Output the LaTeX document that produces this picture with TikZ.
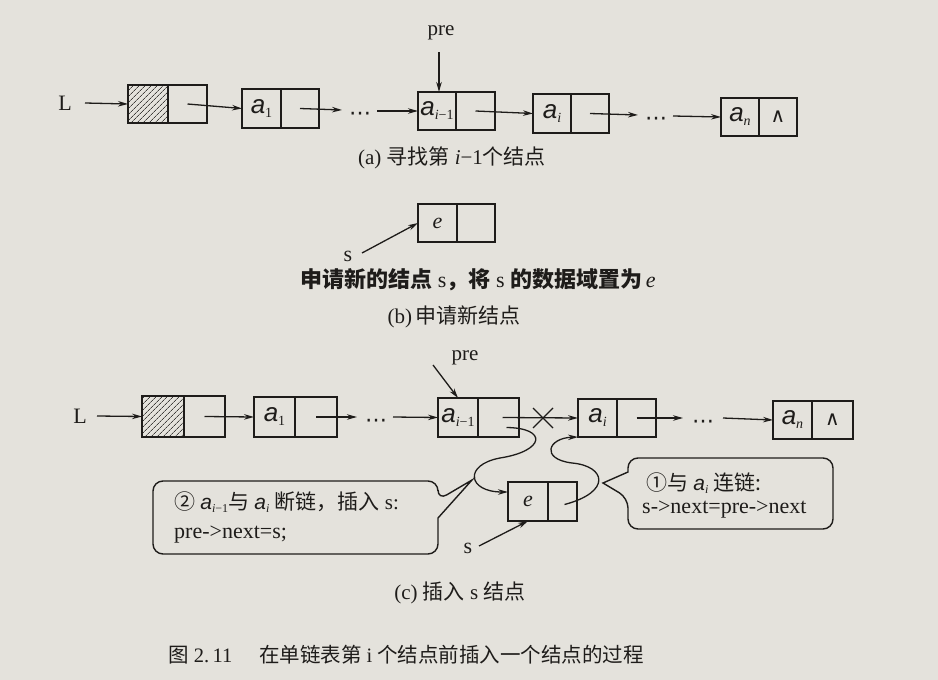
\documentclass[tikz,border=0pt]{standalone}
\usepackage{fontspec}
\setmainfont{Liberation Serif}
\newfontfamily\cjk{Noto Sans CJK SC}
\newfontfamily\symf{DejaVu Sans}
\newfontfamily\afont{Liberation Sans}
\usetikzlibrary{arrows.meta,patterns.meta}
\definecolor{paper}{RGB}{228,226,220}
\definecolor{ink}{RGB}{30,28,26}
\newcommand\zh[1]{{\cjk #1}}
\newcommand\zhb[1]{{\cjk\bfseries #1}}
\newcommand\elm[1]{{\afont\itshape\fontsize{26}{26}\selectfont a}\raisebox{-4pt}{\fontsize{14}{14}\selectfont #1}}
\newcommand\elc[1]{{\afont\itshape\fontsize{21}{21}\selectfont a}\raisebox{-3.5pt}{\fontsize{12}{12}\selectfont #1}}
\newcommand\lnode[9][]{%
  \node[cell,#1,minimum width={(#4-#3)*1pt},minimum height={(#7-#6)*1pt}] (#2d) at ({(#3+#4)/2},{(#6+#7)/2}) {#8};
  \node[cell,minimum width={(#5-#4)*1pt},minimum height={(#7-#6)*1pt}] (#2p) at ({(#4+#5)/2},{(#6+#7)/2}) {#9};}
\tikzset{
  cell/.style={draw=ink, line width=1.8pt, inner sep=0pt, outer sep=0pt, text=ink},
  arr/.style={draw=ink, line width=1.3pt, -{Stealth[length=10pt,width=5.5pt]}},
  lbl/.style={inner sep=1pt, text=ink, font=\fontsize{22}{22}\selectfont},
  captxt/.style={inner sep=0pt, text=ink, font=\fontsize{21}{25}\selectfont},
  dotnode/.style={inner sep=0pt, text=ink, font=\symf\fontsize{22}{22}\selectfont},
  hatch/.style={pattern={Lines[angle=45,distance=4pt,line width=0.7pt]}, pattern color=ink!85},
  callout/.style={draw=ink, line width=1.4pt},
  ctext/.style={inner sep=0pt, text=ink, anchor=west, font=\fontsize{21}{21}\selectfont},
  nil/.style={font=\symf\fontsize{21}{21}\selectfont},
}
\begin{document}
\begin{tikzpicture}[x=1pt,y=-1pt]
\fill[paper] (0,0) rectangle (938,680);
\useasboundingbox (0,0) rectangle (938,680);

% ---------- (a) ----------
\node[lbl] (LA) at (65,103) {L};
\coordinate (LAs) at (85,103);
\lnode[hatch]{hA}{128}{168}{207}{85}{123}{}{}
\lnode{a1A}{242}{281}{319}{89}{128}{\elm{1}}{}
\lnode{aimA}{418}{456}{495}{92}{130}{\elm{\textit{i}−1}}{}
\lnode{aiA}{533}{571}{609}{94}{133}{\elm{\textit{i}}}{}
\lnode{anA}{721}{759}{797}{98}{136}{\elm{\textit{n}}}{{\symf\fontsize{20}{20}\selectfont ∧}}
\node[lbl, font=\fontsize{21}{21}\selectfont] (preA) at (441,33) {pre};
\coordinate (preAs) at (439,52);
\draw[arr] (LAs) -- (hAd.west);
\draw[arr] (hAp.center) -- (a1Ad.west);
\coordinate (dA1e) at (342,110);
\node[dotnode] (dA1) at (360,116) {⋯};
\coordinate (dA1s) at (377,111);
\draw[arr] (a1Ap.center) -- (dA1e);
\draw[arr] (dA1s) -- (aimAd.west);
\draw[arr] (preAs) -- (preAs |- aimAd.north);
\draw[arr] (aimAp.center) -- (aiAd.west);
\coordinate (dA2e) at (638,115);
\node[dotnode] (dA2) at (656,121) {⋯};
\coordinate (dA2s) at (673,116);
\draw[arr] (aiAp.center) -- (dA2e);
\draw[arr] (dA2s) -- (anAd.west);
\node[captxt] (capA) at (452,158) {(a) \zh{寻找第} \textit{i}−1\zh{个结点}};

% ---------- (b) ----------
\lnode{eB}{418}{457}{495}{204}{242}{{\fontsize{22}{22}\selectfont\textit{e}}}{}
\node[lbl] (sB) at (348,256) {s};
\coordinate (sBs) at (362,253);
\draw[arr] (sBs) -- (eBd.west);
\node[captxt, font=\fontsize{22}{25}\selectfont] (txtB) at (478,280) {\zhb{申请新的结点} s\zhb{，将} s \zhb{的数据域置为}\,\textit{e}};
\node[captxt] (capB) at (454,317) {(b)\,\zh{申请新结点}};

% ---------- (c) ----------
\node[lbl] (LC) at (80,416) {L};
\coordinate (LCs) at (97,416);
\lnode[hatch]{hC}{142}{184}{225}{396}{437}{}{}
\lnode{a1C}{254}{295}{337}{397}{437}{\elm{1}}{}
\lnode{aimC}{438}{478}{519}{398}{437}{\elm{\textit{i}−1}}{}
\lnode{aiC}{578}{617}{656}{399}{437}{\elm{\textit{i}}}{}
\lnode{anC}{773}{812}{853}{401}{439}{\elm{\textit{n}}}{{\symf\fontsize{20}{20}\selectfont ∧}}
\lnode{eC}{508}{548}{577}{482}{521}{{\fontsize{22}{22}\selectfont\textit{e}}}{}
\draw[arr] (LCs) -- (hCd.west);
\draw[arr] (hCp.center) -- (a1Cd.west);
\coordinate (dC1e) at (357,417);
\node[dotnode] (dC1) at (376,423) {⋯};
\coordinate (dC1s) at (393,417);
\draw[arr] (a1Cp.center) -- (dC1e);
\draw[arr] (dC1s) -- (aimCd.west);
\node[lbl, font=\fontsize{21}{21}\selectfont] (preC) at (465,358) {pre};
\coordinate (preCs) at (433,365);
\draw[arr] (preCs) -- (aimCd.north);
% broken link with cross
\draw[arr] ([xshift=4pt]aimCp.center) -- (aiCd.west);
\coordinate (xc) at (543,418);
\draw[ink, line width=1.3pt] ([shift={(-10,-10)}]xc) -- ([shift={(10,10)}]xc)
                             ([shift={(-10,10)}]xc) -- ([shift={(10,-10)}]xc);
\coordinate (dC2e) at (683,418);
\node[dotnode] (dC2) at (703,424) {⋯};
\coordinate (dC2s) at (723,418);
\draw[arr] (aiCp.center) -- (dC2e);
\draw[arr] (dC2s) -- (anCd.west);
% new links
\draw[arr] ([shift={(8,10)}]aimCp.center) .. controls (548,428) and (545,451) .. (500,458)
      .. controls (463,465) and (468,492) .. ([shift={(0,10)}]eCd.north west);
\draw[arr] ([shift={(2,3)}]eCp.center) .. controls (612,492) and (606,466) .. (572,463)
      .. controls (540,459) and (548,438) .. (aiCd.south west);
\node[lbl] (sC) at (468,548) {s};
\coordinate (sCs) at (479,546);
\draw[arr] (sCs) -- (eCd.south);
% callout 2
\draw[callout, rounded corners=10pt] (153,481) -- (438,481) -- (438,500) [sharp corners] -- (472,480) -- (438,518)
      [rounded corners=10pt] -- (438,554) -- (153,554) -- cycle;
\node[ctext] (cl2a) at (174,502) {\zh{②} \elc{\textit{i}−1}\zh{与} \elc{\textit{i}} \zh{断链，插入} s:};
\node[ctext, font=\fontsize{22}{22}\selectfont] (cl2b) at (174,535) {pre->next=s;};
% callout 1
\draw[callout, rounded corners=10pt] (628,458) -- (833,458) -- (833,529) -- (628,529) -- (628,498)
      [sharp corners] -- (603,483) -- (628,472) [rounded corners=10pt] -- cycle;
\node[ctext] (cl1a) at (646,483) {\zh{①与} \elc{\textit{i}} \zh{连链:}};
\node[ctext, font=\fontsize{22}{22}\selectfont] (cl1b) at (642,510) {s->next=pre->next};
\node[captxt] (capC) at (460,593) {(c) \zh{插入} s \zh{结点}};

% ---------- figure caption ----------
\node[captxt, anchor=west, font=\fontsize{20.5}{25}\selectfont] (fig) at (168,655) {\zh{图} 2.\,11\hspace{1.3em}\zh{在单链表第} i \zh{个结点前插入一个结点的过程}};
\end{tikzpicture}
\end{document}
